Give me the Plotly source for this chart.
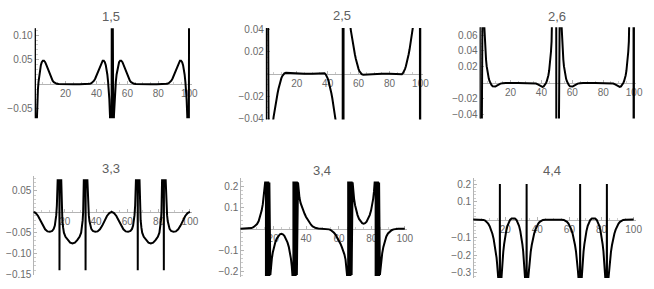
import plotly.graph_objects as go

# ---------------- data ----------------
TITLES = ["1,5", "2,5", "2,6", "3,3", "3,4", "4,4"]

X_TICKS = [20, 40, 60, 80, 100]
X_TICKTEXT = ["20", "40", "60", "80", "100"]

# panel "1,5"
X15 = [0.0, 0.4, 0.9, 1.3, 1.7, 2.1, 2.5, 3.0, 3.5, 4.0, 4.6, 5.3, 6.0, 6.8, 7.6, 8.4, 9.2, 10.0, 10.8, 11.6,
       12.4, 13.3, 14.3, 15.5, 17, 19, 21, 25, 29, 31, 33, 34.5, 35.7, 36.7, 37.6, 38.4, 39.2, 40.0, 40.8, 41.6,
       42.4, 43.2, 44.0, 44.7, 45.4, 46.0, 46.5, 47.0, 47.5, 47.9, 48.3, 48.7, 49.1, 49.6, 50.0, 50.4,
       50.9, 51.3, 51.7, 52.1, 52.5, 53.0, 53.5, 54.0, 54.6, 55.3, 56.0, 56.8, 57.6, 58.4, 59.2, 60.0, 60.8, 61.6,
       62.4, 63.3, 64.3, 65.5, 67, 69, 71, 75, 79, 81, 83, 84.5, 85.7, 86.7, 87.6, 88.4, 89.2, 90.0, 90.8, 91.6,
       92.4, 93.2, 94.0, 94.7, 95.4, 96.0, 96.5, 97.0, 97.5, 97.9, 98.3, 98.7, 99.1, 99.6, 100.0]
Y15 = [0.5, -0.5, -0.12, -0.062, -0.03, -0.01, 0.005, 0.02, 0.031, 0.039, 0.045, 0.048, 0.048, 0.045, 0.039, 0.032, 0.025, 0.018, 0.012, 0.0075,
       0.0045, 0.0025, 0.0012, 0.0005, 0.0002, 0.00005, 0, 0, 0, 0.00005, 0.0002, 0.0005, 0.0012, 0.0025, 0.0045, 0.0075, 0.012, 0.018, 0.025, 0.032,
       0.039, 0.045, 0.048, 0.048, 0.045, 0.039, 0.031, 0.02, 0.005, -0.01, -0.03, -0.062, -0.12, -0.5, 0.5, -0.5,
       -0.12, -0.062, -0.03, -0.01, 0.005, 0.02, 0.031, 0.039, 0.045, 0.048, 0.048, 0.045, 0.039, 0.032, 0.025, 0.018, 0.012, 0.0075,
       0.0045, 0.0025, 0.0012, 0.0005, 0.0002, 0.00005, 0, 0, 0, 0.00005, 0.0002, 0.0005, 0.0012, 0.0025, 0.0045, 0.0075, 0.012, 0.018, 0.025, 0.032,
       0.039, 0.045, 0.048, 0.048, 0.045, 0.039, 0.031, 0.02, 0.005, -0.01, -0.03, -0.062, -0.12, -0.5, 0.5]

# panel "2,5"
X25 = [0.0, 0.2, 0.4, 2.0, 3.0, 3.8, 4.4, 5.0, 5.6, 6.3, 7.0, 7.6, 8.2, 8.8, 9.4, 10.0, 10.6, 11.2, 12.0, 13.0,
       14.5, 16.0, 18.0, 20.0, 25, 30, 32, 34, 35.5, 37.0, 38.0, 38.8, 39.4, 40.0, 40.6, 41.2, 41.8, 42.4, 43.0, 43.7,
       44.4, 45.0, 45.6, 46.2, 47.0, 48.0, 49.6, 49.85, 50.15, 50.4,
       52.0, 53.0, 53.8, 54.4, 55.0, 55.6, 56.3, 57.0, 57.6, 58.2, 58.8, 59.4, 60.0, 60.6, 61.2, 62.0, 63.0,
       64.5, 66.0, 68.0, 70.0, 75, 80, 82, 84, 85.5, 87.0, 88.0, 88.8, 89.4, 90.0, 90.6, 91.2, 91.8, 92.4, 93.0, 93.7,
       94.4, 95.0, 95.6, 96.2, 97.0, 98.0, 99.6, 99.8, 100.0]
Y25 = [-0.5, 0.5, -0.5, -0.12, -0.075, -0.055, -0.046, -0.039, -0.033, -0.027, -0.022, -0.0175, -0.0135, -0.0098, -0.0067, -0.0042, -0.0022, -0.0007, 0.0004, 0.0009,
       0.0008, 0.0004, 0.0001, 0.0, 0, 0, 0.0001, 0.0004, 0.0008, 0.0009, 0.0004, -0.0007, -0.0022, -0.0042, -0.0067, -0.0098, -0.0135, -0.0175, -0.022, -0.027,
       -0.033, -0.039, -0.046, -0.055, -0.075, -0.12, -0.5, 0.5, -0.5, 0.5,
       0.12, 0.075, 0.055, 0.046, 0.039, 0.033, 0.027, 0.022, 0.0175, 0.0135, 0.0098, 0.0067, 0.0042, 0.0022, 0.0007, -0.0004, -0.0009,
       -0.0008, -0.0004, -0.0001, 0.0, 0, 0, -0.0001, -0.0004, -0.0008, -0.0009, -0.0004, 0.0007, 0.0022, 0.0042, 0.0067, 0.0098, 0.0135, 0.0175, 0.022, 0.027,
       0.033, 0.039, 0.046, 0.055, 0.075, 0.12, 0.5, -0.5, 0.5]

# panel "2,6"
X26 = [0.0, 0.2, 0.5, 1.0, 1.5, 2.0, 2.5, 3.0, 3.4, 3.8, 4.2, 4.6, 5.0, 5.5, 6.0, 6.5, 7.0, 7.7, 8.5, 9.3,
       10.2, 11.2, 12.3, 13.5, 15.0, 17.0, 25.0, 33.0, 35.0, 36.5, 37.7, 38.8, 39.8, 40.7, 41.5, 42.3, 43.0, 43.5, 44.0, 44.5,
       45.0, 45.4, 45.8, 46.2, 46.6, 47.0, 47.5, 48.0, 48.5, 49.0, 49.5, 49.75, 50.0, 51.0, 51.5, 52.0, 52.5,
       53.0, 53.4, 53.8, 54.2, 54.6, 55.0, 55.5, 56.0, 56.5, 57.0, 57.7, 58.5, 59.3, 60.2, 61.2, 62.3, 63.5, 65.0,
       67.0, 75.0, 83.0, 85.0, 86.5, 87.7, 88.8, 89.8, 90.7, 91.5, 92.3, 93.0, 93.5, 94.0, 94.5, 95.0, 95.4, 95.8,
       96.2, 96.6, 97.0, 97.5, 98.0, 98.5, 99.0, 99.5, 99.75, 100.0]
Y26 = [0.6, -0.5, 0.6, 0.3, 0.19, 0.13, 0.092, 0.068, 0.052, 0.039, 0.029, 0.021, 0.015, 0.0093, 0.0052, 0.0022, 0.0, -0.0025, -0.0042, -0.0048,
       -0.0045, -0.0033, -0.0018, -0.0008, -0.0003, 0.0, 0.0, 0.0, -0.0003, -0.0008, -0.0018, -0.0033, -0.0045, -0.0048, -0.0042, -0.0025, 0.0, 0.0022, 0.0052, 0.0093,
       0.015, 0.021, 0.029, 0.039, 0.052, 0.068, 0.092, 0.13, 0.19, 0.3, 0.6, -0.5, 0.6, 0.3, 0.19, 0.13, 0.092,
       0.068, 0.052, 0.039, 0.029, 0.021, 0.015, 0.0093, 0.0052, 0.0022, 0.0, -0.0025, -0.0042, -0.0048, -0.0045, -0.0033, -0.0018, -0.0008, -0.0003,
       0.0, 0.0, 0.0, -0.0003, -0.0008, -0.0018, -0.0033, -0.0045, -0.0048, -0.0042, -0.0025, 0.0, 0.0022, 0.0052, 0.0093, 0.015, 0.021, 0.029,
       0.039, 0.052, 0.068, 0.092, 0.13, 0.19, 0.3, 0.6, -0.5, 0.6]

# panel "3,3"
X33 = [0, 1.5, 3, 4.5, 6, 7.5, 9, 10.5, 12, 13, 13.7, 14.2, 14.6, 15.0, 15.3, 15.5,
       16.6, 16.67, 16.74,
       17.8, 18.0, 18.2, 18.5, 19.0, 19.5, 20.5, 22, 23.5, 25, 26.5, 28, 29.5, 30.5, 31.0, 31.5, 31.8, 32.0, 32.2,
       33.26, 33.33, 33.4,
       34.5, 34.7, 35.0, 35.4, 35.8, 36.3, 37.0, 38.0, 39.5, 41, 42.5, 44, 45.5, 47, 48.5, 50,
       51.5, 53, 54.5, 56, 57.5, 59, 60.5, 62, 63, 63.7, 64.2, 64.6, 65.0, 65.3, 65.5,
       66.6, 66.67, 66.74,
       67.8, 68.0, 68.2, 68.5, 69.0, 69.5, 70.5, 72, 73.5, 75, 76.5, 78, 79.5, 80.5, 81.0, 81.5, 81.8, 82.0, 82.2,
       83.26, 83.33, 83.4,
       84.5, 84.7, 85.0, 85.4, 85.8, 86.3, 87.0, 88.0, 89.5, 91, 92.5, 94, 95.5, 97, 98.5, 100]
Y33 = [0, -0.003, -0.01, -0.021, -0.033, -0.042, -0.047, -0.048, -0.046, -0.041, -0.033, -0.022, -0.008, 0.015, 0.045, 0.076,
       0.076, -0.14, 0.076,
       0.076, 0.03, 0.0, -0.02, -0.038, -0.05, -0.06, -0.068, -0.074, -0.076, -0.074, -0.068, -0.06, -0.05, -0.038, -0.02, 0.0, 0.03, 0.076,
       0.076, -0.14, 0.076,
       0.076, 0.045, 0.015, -0.008, -0.022, -0.033, -0.041, -0.046, -0.048, -0.047, -0.042, -0.033, -0.021, -0.01, -0.003, 0,
       -0.003, -0.01, -0.021, -0.033, -0.042, -0.047, -0.048, -0.046, -0.041, -0.033, -0.022, -0.008, 0.015, 0.045, 0.076,
       0.076, -0.14, 0.076,
       0.076, 0.03, 0.0, -0.02, -0.038, -0.05, -0.06, -0.068, -0.074, -0.076, -0.074, -0.068, -0.06, -0.05, -0.038, -0.02, 0.0, 0.03, 0.076,
       0.076, -0.14, 0.076,
       0.076, 0.045, 0.015, -0.008, -0.022, -0.033, -0.041, -0.046, -0.048, -0.047, -0.042, -0.033, -0.021, -0.01, -0.003, 0]

# panel "3,4"
X34 = [0, 2, 4, 5.5, 6.8, 8, 9.2, 10.2, 11.2, 12.2, 13.0, 13.7, 14.3, 14.8, 15.1,
       15.6, 15.6, 16.3, 16.3, 17.0, 17.0, 17.7, 17.7, 18.3,
       18.7, 19.2, 19.8, 20.5, 21.3, 22.2, 23.2, 24.1, 25, 25.9, 26.8, 27.8, 28.7, 29.5, 30.2, 30.8, 31.3, 31.7,
       32.3, 32.3, 33.0, 33.0, 33.7, 33.7, 34.4, 34.4, 35.1,
       35.5, 36.0, 36.7, 37.5, 38.3, 39.1, 40, 41, 42, 43, 44, 45, 46, 47.5, 50,
       52.5, 54, 55, 56, 57, 58, 59, 60, 60.9, 61.7, 62.5, 63.3, 64.0, 64.5, 64.9,
       65.6, 65.6, 66.3, 66.3, 67.0, 67.0, 67.7, 67.7, 68.3,
       68.7, 69.2, 69.8, 70.5, 71.3, 72.2, 73.2, 74.1, 75, 75.9, 76.8, 77.8, 78.7, 79.5, 80.2, 80.8, 81.3, 81.7,
       82.3, 82.3, 83.0, 83.0, 83.7, 83.7, 84.4, 84.4, 84.9,
       85.2, 85.7, 86.3, 87.0, 87.8, 88.8, 89.8, 90.8, 92.0, 93.2, 94.5, 96, 98, 100]
Y34 = [0, 0, 0.0003, 0.001, 0.003, 0.007, 0.013, 0.022, 0.036, 0.058, 0.085, 0.115, 0.15, 0.19, 0.217,
       0.217, -0.217, -0.217, 0.217, 0.217, -0.217, -0.217, 0.217, -0.217,
       -0.175, -0.14, -0.11, -0.085, -0.064, -0.046, -0.033, -0.026, -0.024, -0.026, -0.033, -0.046, -0.064, -0.085, -0.11, -0.14, -0.175, -0.217,
       -0.217, 0.217, 0.217, -0.217, -0.217, 0.217, 0.217, -0.217, 0.217,
       0.175, 0.145, 0.12, 0.1, 0.085, 0.07, 0.055, 0.041, 0.029, 0.019, 0.011, 0.006, 0.003, 0.001, 0,
       -0.001, -0.003, -0.006, -0.011, -0.019, -0.029, -0.041, -0.055, -0.07, -0.085, -0.1, -0.12, -0.145, -0.175, -0.217,
       -0.217, 0.217, 0.217, -0.217, -0.217, 0.217, 0.217, -0.217, 0.217,
       0.175, 0.14, 0.11, 0.085, 0.064, 0.046, 0.033, 0.026, 0.024, 0.026, 0.033, 0.046, 0.064, 0.085, 0.11, 0.14, 0.175, 0.217,
       0.217, -0.217, -0.217, 0.217, 0.217, -0.217, -0.217, 0.217, -0.217,
       -0.19, -0.15, -0.115, -0.085, -0.058, -0.036, -0.022, -0.013, -0.007, -0.003, -0.001, -0.0003, 0, 0]

# panel "4,4"
X44 = [0, 3, 5, 6.5, 7.5, 8.5, 9.4, 10.3, 11.2, 12.0, 12.8, 13.5, 14.1, 14.6, 15.0, 15.3, 15.6,
       16.6, 16.67, 16.74,
       17.7, 18.0, 18.4, 18.8, 19.3, 19.9, 20.6, 21.4, 22.2, 23.0, 24.0, 25.0, 26.0, 27.0, 27.8, 28.6, 29.4, 30.1, 30.7, 31.2, 31.6, 32.0, 32.3,
       33.26, 33.33, 33.4,
       34.4, 34.7, 35.0, 35.4, 35.9, 36.5, 37.2, 38.0, 38.8, 39.7, 40.6, 41.5, 42.5, 43.5, 45, 47, 50,
       53, 55, 56.5, 57.5, 58.5, 59.4, 60.3, 61.2, 62.0, 62.8, 63.5, 64.1, 64.6, 65.0, 65.3, 65.6,
       66.6, 66.67, 66.74,
       67.7, 68.0, 68.4, 68.8, 69.3, 69.9, 70.6, 71.4, 72.2, 73.0, 74.0, 75.0, 76.0, 77.0, 77.8, 78.6, 79.4, 80.1, 80.7, 81.2, 81.6, 82.0, 82.3,
       83.26, 83.33, 83.4,
       84.4, 84.7, 85.0, 85.4, 85.9, 86.5, 87.2, 88.0, 88.8, 89.7, 90.6, 91.5, 92.5, 93.5, 95, 97, 100]
Y44 = [0, 0, -0.0005, -0.002, -0.006, -0.013, -0.023, -0.037, -0.057, -0.08, -0.11, -0.145, -0.18, -0.215, -0.255, -0.29, -0.323,
       -0.323, 0.201, -0.323,
       -0.323, -0.27, -0.22, -0.18, -0.14, -0.1, -0.065, -0.035, -0.015, -0.002, 0.006, 0.008, 0.006, -0.002, -0.015, -0.035, -0.065, -0.1, -0.14, -0.18, -0.22, -0.27, -0.323,
       -0.323, 0.201, -0.323,
       -0.323, -0.29, -0.255, -0.215, -0.18, -0.145, -0.11, -0.08, -0.057, -0.037, -0.023, -0.013, -0.006, -0.002, -0.0005, 0, 0,
       0, -0.0005, -0.002, -0.006, -0.013, -0.023, -0.037, -0.057, -0.08, -0.11, -0.145, -0.18, -0.215, -0.255, -0.29, -0.323,
       -0.323, 0.201, -0.323,
       -0.323, -0.27, -0.22, -0.18, -0.14, -0.1, -0.065, -0.035, -0.015, -0.002, 0.006, 0.008, 0.006, -0.002, -0.015, -0.035, -0.065, -0.1, -0.14, -0.18, -0.22, -0.27, -0.323,
       -0.323, 0.201, -0.323,
       -0.323, -0.29, -0.255, -0.215, -0.18, -0.145, -0.11, -0.08, -0.057, -0.037, -0.023, -0.013, -0.006, -0.002, -0.0005, 0, 0]

Y_TICKS = [
    [-0.05, 0.05, 0.10],
    [-0.04, -0.02, 0.02, 0.04],
    [-0.04, -0.02, 0.02, 0.04, 0.06],
    [-0.15, -0.10, -0.05, 0.05],
    [-0.2, -0.1, 0.1, 0.2],
    [-0.3, -0.2, -0.1, 0.1, 0.2],
]
Y_TICKTEXT = [
    ["\u22120.05", "0.05", "0.10"],
    ["\u22120.04", "\u22120.02", "0.02", "0.04"],
    ["\u22120.04", "\u22120.02", "0.02", "0.04", "0.06"],
    ["\u22120.15", "\u22120.10", "\u22120.05", "0.05"],
    ["\u22120.2", "\u22120.1", "0.1", "0.2"],
    ["\u22120.3", "\u22120.2", "\u22120.1", "0.1", "0.2"],
]
Y_RANGES = [
    [-0.069, 0.114],
    [-0.041, 0.041],
    [-0.0446, 0.0697],
    [-0.1523, 0.0849],
    [-0.226, 0.236],
    [-0.332, 0.232],
]
Y_MINOR = [0.01, 0.005, 0.005, 0.01, 0.02, 0.02]

SERIES_X = [X15, X25, X26, X33, X34, X44]
SERIES_Y = [Y15, Y25, Y26, Y33, Y34, Y44]

# ---------------- layout geometry (pixels) ----------------
W, H = 654, 289
X_RANGE = [0, 101.5]
# (left px of x=0, px per unit, top px, bottom px)
GEOM = [
    (35.0, 1.56, 25.0, 118.0),
    (268.3, 1.56, 24.9, 119.1),
    (484.0, 1.56, 24.0, 118.3),
    (33.7, 1.58, 178.0, 280.0),
    (242.5, 1.66, 180.0, 281.7),
    (477.5, 1.62, 180.0, 283.3),
]
TITLE_POS = [(112, 13), (345, 12), (562, 13), (112, 170), (325, 172), (557, 172)]

AXIS_COLOR = "#b4b4b4"
LABEL_COLOR = "#6a6a6a"
FONT = "Liberation Sans, Arial, sans-serif"

fig = go.Figure()
layout = dict(
    width=W, height=H, margin=dict(l=0, r=0, t=0, b=0),
    paper_bgcolor="white", plot_bgcolor="white", showlegend=False,
    font=dict(family=FONT, size=10, color=LABEL_COLOR),
)
annotations = []

for i in range(6):
    n = "" if i == 0 else str(i + 1)
    x0px, sc, ytop, ybot = GEOM[i]
    x1px = x0px + (X_RANGE[1] - X_RANGE[0]) * sc
    xdom = [x0px / W, x1px / W]
    ydom = [1 - ybot / H, 1 - ytop / H]
    ymin, ymax = Y_RANGES[i]
    zero_px = ybot - (0 - ymin) / (ymax - ymin) * (ybot - ytop)
    xpos = 1 - zero_px / H

    fig.add_trace(go.Scatter(
        x=SERIES_X[i], y=SERIES_Y[i], mode="lines",
        line=dict(color="black", width=2),
        xaxis="x" + n, yaxis="y" + n, hoverinfo="skip",
    ))

    layout["xaxis" + n] = dict(
        domain=xdom, range=X_RANGE, anchor="free", position=xpos, side="bottom",
        showline=True, linecolor=AXIS_COLOR, linewidth=1, showgrid=False, zeroline=False,
        tickmode="array", tickvals=X_TICKS, ticktext=X_TICKTEXT,
        ticks="inside", ticklen=3, tickcolor=AXIS_COLOR, tickwidth=1,
        tickfont=dict(family=FONT, size=10, color=LABEL_COLOR),
        minor=dict(tickmode="linear", tick0=0, dtick=5, ticks="inside", ticklen=2,
                   tickcolor="#cccccc", showgrid=False),
        layer="below traces", fixedrange=True,
    )
    layout["yaxis" + n] = dict(
        domain=ydom, range=Y_RANGES[i], anchor="free", position=xdom[0], side="left",
        showline=True, linecolor=AXIS_COLOR, linewidth=1, showgrid=False, zeroline=False,
        tickmode="array", tickvals=Y_TICKS[i], ticktext=Y_TICKTEXT[i],
        ticks="inside", ticklen=3, tickcolor=AXIS_COLOR, tickwidth=1,
        tickfont=dict(family=FONT, size=10, color=LABEL_COLOR),
        minor=dict(tickmode="linear", tick0=0, dtick=Y_MINOR[i], ticks="inside", ticklen=2,
                   tickcolor="#cccccc", showgrid=False),
        layer="below traces", fixedrange=True,
    )
    tx, ty = TITLE_POS[i]
    annotations.append(dict(
        text=TITLES[i], x=tx / W, y=1 - ty / H, xref="paper", yref="paper",
        xanchor="center", yanchor="middle", showarrow=False,
        font=dict(family=FONT, size=13, color="#606060"),
    ))

layout["annotations"] = annotations
fig.update_layout(**layout)
fig.write_html(
    "out.html",
    config={"displayModeBar": False, "staticPlot": True},
    post_script="document.body.style.margin='0';document.body.style.overflow='hidden';"
                "document.documentElement.style.overflow='hidden';",
)
